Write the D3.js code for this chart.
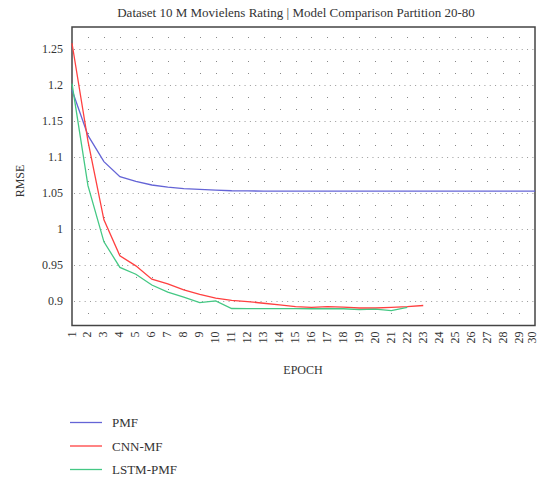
<!DOCTYPE html>
<html>
<head>
<meta charset="utf-8">
<script src="https://cdn.jsdelivr.net/npm/d3@7"></script>
<style>
body { margin: 0; background: #fff; }
svg { display: block; font-family: "Liberation Serif", "DejaVu Serif", serif; }
</style>
</head>
<body>
<svg id="chart" width="538" height="481"></svg>
<script>
const epochs = d3.range(1, 31);
const seriesNames = ["PMF", "CNN-MF", "LSTM-PMF"];
const seriesColors = ["#6464d6", "#ff4040", "#44c884"];
const pmf = [1.193, 1.130, 1.0935, 1.0725, 1.066, 1.061, 1.058, 1.056, 1.055, 1.054, 1.053, 1.0528, 1.0525, 1.0525, 1.0525, 1.0525, 1.0525, 1.0525, 1.0525, 1.0525, 1.0525, 1.0525, 1.0525, 1.0525, 1.0525, 1.0525, 1.0525, 1.0525, 1.0525, 1.0525];
const cnnmf = [1.258, 1.122, 1.0125, 0.9625, 0.9486, 0.930, 0.9236, 0.9153, 0.909, 0.9037, 0.9005, 0.899, 0.8966, 0.8944, 0.892, 0.891, 0.892, 0.8912, 0.890, 0.890, 0.891, 0.892, 0.8935];
const lstmpmf = [1.202, 1.060, 0.982, 0.9465, 0.937, 0.922, 0.912, 0.9052, 0.8976, 0.900, 0.8893, 0.8892, 0.8892, 0.8892, 0.8892, 0.889, 0.889, 0.889, 0.8878, 0.8885, 0.8865, 0.891];
const yTicks = [0.9, 0.95, 1, 1.05, 1.1, 1.15, 1.2, 1.25];
const yTickLabels = ["0.9", "0.95", "1", "1.05", "1.1", "1.15", "1.2", "1.25"];
const title = "Dataset 10 M  Movielens Rating | Model Comparison Partition 20-80";

const svg = d3.select("#chart");
const L = 72, R = 535, T = 27, B = 325.5;
const x = d3.scaleLinear().domain([1, 30]).range([L, R]);
const y = d3.scaleLinear().domain([0.8657, 1.2806]).range([B, T]);

// title
svg.append("text").attr("x", 296).attr("y", 17).attr("text-anchor", "middle")
  .attr("font-size", 13).attr("fill", "#333").text(title);

// grid dots
const minorRows = d3.range(0, 24).map(i => 0.9 - 1/60 + i / 60);
const g = svg.append("g");
minorRows.forEach(v => {
  const isMajor = yTicks.some(t => Math.abs(t - v) < 1e-6);
  if (isMajor) {
    g.append("line").attr("x1", L + 2).attr("x2", R - 1)
      .attr("y1", Math.round(y(v)) + 0.5).attr("y2", Math.round(y(v)) + 0.5)
      .attr("stroke", "#999").attr("stroke-width", 1).attr("stroke-dasharray", "1,4.33");
  } else {
    epochs.slice(1, 29).forEach(e => {
      g.append("rect").attr("x", Math.round(x(e))).attr("y", Math.round(y(v)))
        .attr("width", 1).attr("height", 1).attr("fill", "#888");
    });
  }
});

// frame
svg.append("rect").attr("x", L).attr("y", T).attr("width", R - L).attr("height", B - T)
  .attr("fill", "none").attr("stroke", "#444").attr("stroke-width", 1.5);

// y axis labels
const yAxis = d3.axisLeft(y).tickValues(yTicks).tickSize(0).tickPadding(9)
  .tickFormat((d, i) => yTickLabels[i]);
const ya = svg.append("g").attr("transform", `translate(${L},0)`).call(yAxis);
ya.select(".domain").remove();
ya.selectAll("text").attr("font-family", "Liberation Serif, serif").attr("font-size", 12).attr("fill", "#333");

// x axis labels
const xAxis = d3.axisBottom(x).tickValues(epochs).tickSize(0).tickPadding(0);
const xa = svg.append("g").attr("transform", `translate(0,${B})`).call(xAxis);
xa.select(".domain").remove();
xa.selectAll("text").attr("font-family", "Liberation Serif, serif").attr("font-size", 12).attr("fill", "#333")
  .attr("text-anchor", "end").attr("dy", null)
  .attr("transform", (d, i) => i === epochs.length - 1 ? "translate(0,6) rotate(-90)" : "translate(3,6) rotate(-90)");

// axis titles
svg.append("text").attr("transform", "translate(24,181) rotate(-90)").attr("text-anchor", "middle")
  .attr("font-size", 12).attr("fill", "#333").text("RMSE");
svg.append("text").attr("x", 303).attr("y", 374).attr("text-anchor", "middle")
  .attr("font-size", 12).attr("fill", "#333").text("EPOCH");

// lines
const line = d3.line().x((d, i) => x(i + 1)).y(d => y(d));
const data = [pmf, cnnmf, lstmpmf];
data.forEach((s, i) => {
  svg.append("path").datum(s).attr("d", line).attr("fill", "none")
    .attr("stroke", seriesColors[i]).attr("stroke-width", 1.3);
});

// legend
const legY = [422.5, 446, 469.5];
seriesNames.forEach((n, i) => {
  svg.append("line").attr("x1", 70).attr("x2", 102).attr("y1", legY[i]).attr("y2", legY[i])
    .attr("stroke", seriesColors[i]).attr("stroke-width", 1.3);
  svg.append("text").attr("x", 112).attr("y", legY[i] + 4.5).attr("font-size", 13)
    .attr("fill", "#333").text(n);
});
</script>
</body>
</html>
